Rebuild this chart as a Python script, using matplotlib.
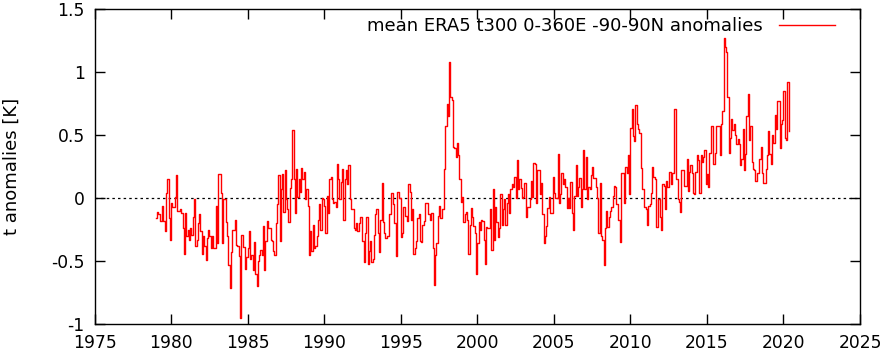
import numpy as np
import matplotlib
matplotlib.use("Agg")
import matplotlib.pyplot as plt

start_year = 1979
seg_1979_1985 = [-0.16, -0.11, -0.13, -0.18, -0.18, -0.06, -0.18, -0.26, 0.04, 0.15,
                 -0.16, -0.33, -0.04, -0.07, -0.07, 0.01, 0.18, -0.10, -0.10, -0.09,
                 -0.12, -0.24, -0.44, -0.12, -0.30, -0.25, -0.33, -0.24, -0.29, -0.15,
                 -0.01, -0.38, -0.33, -0.20, -0.13, -0.26, -0.44, -0.30, -0.38, -0.49,
                 -0.32, -0.25, -0.30, -0.40, -0.30, -0.40, -0.40, -0.06, -0.36, 0.19,
                 0.19, 0.04, -0.36, -0.01, -0.01, -0.19, -0.30, -0.53, -0.71, -0.43,
                 -0.25, -0.25, -0.17, -0.37, -0.38, -0.46, -0.95, -0.29, -0.39, -0.39,
                 -0.56, -0.47, -0.40, -0.26, -0.48, -0.45, -0.57, -0.35, -0.60, -0.70,
                 -0.50, -0.45]
seg_1985_1992 = [-0.41, -0.45, -0.22, -0.57, -0.34, -0.18, -0.24, -0.24, -0.33, -0.34,
                 -0.42, -0.45, -0.20, -0.05, 0.18, -0.34, 0.07, 0.19, -0.11, 0.22,
                 -0.01, -0.09, -0.19, 0.08, 0.15, 0.54, 0.15, -0.12, 0.23, 0.01,
                 0.15, 0.05, 0.24, 0.15, 0.21, -0.01, 0.07, -0.06, -0.45, -0.26,
                 -0.42, -0.21, -0.40, -0.38, -0.30, -0.17, -0.05, -0.25, 0.00, -0.01,
                 -0.06, -0.28, 0.02, -0.12, 0.15, 0.17, -0.01, -0.04, -0.03, -0.07,
                 0.27, 0.15, -0.01, 0.13, 0.23, -0.17, 0.15, 0.22, 0.11, 0.26,
                 -0.01, -0.09, -0.09, -0.24, -0.25, -0.20, -0.26, -0.20, -0.15, -0.15,
                 -0.34, -0.51]
seg_1992_1999 = [-0.28, -0.15, -0.52, -0.42, -0.34, -0.51, -0.48, -0.29, -0.13, -0.09,
                 -0.28, -0.43, -0.17, 0.12, -0.19, -0.28, -0.32, -0.30, -0.30, -0.13,
                 0.04, 0.04, -0.05, -0.20, -0.46, 0.05, 0.05, 0.00, -0.31, -0.28,
                 -0.07, -0.14, -0.14, -0.18, 0.11, 0.05, -0.17, -0.09, -0.44, -0.40,
                 -0.34, -0.16, -0.13, -0.34, -0.35, -0.21, -0.18, -0.04, -0.04, -0.13,
                 -0.13, -0.17, -0.12, -0.40, -0.69, -0.45, -0.36, -0.14, -0.06, -0.16,
                 -0.09, -0.09, 0.23, 0.57, 0.75, 0.65, 1.08, 0.80, 0.78, 0.41,
                 0.40, 0.33, 0.44, 0.34, 0.15, -0.03, 0.01, -0.19, -0.13, -0.11,
                 -0.17, -0.44]
seg_1999_2006 = [-0.21, -0.08, -0.15, -0.22, -0.28, -0.60, -0.36, -0.19, -0.25, -0.17,
                 -0.18, -0.33, -0.52, -0.23, -0.24, -0.24, -0.09, -0.41, 0.07, -0.33,
                 -0.07, -0.19, -0.31, -0.24, 0.03, -0.21, -0.09, -0.01, -0.21, -0.04,
                 0.03, -0.12, 0.07, 0.11, 0.09, 0.17, 0.00, 0.30, 0.07, 0.15,
                 0.08, 0.00, 0.01, 0.12, -0.15, -0.07, -0.07, -0.01, 0.14, 0.01,
                 0.28, 0.27, -0.04, 0.22, 0.22, 0.03, 0.12, -0.13, -0.36, -0.30,
                 -0.22, -0.08, 0.01, -0.12, -0.12, 0.17, 0.04, 0.00, 0.00, 0.35,
                 -0.04, 0.03, 0.20, 0.11, 0.15, 0.09, -0.08, 0.00, -0.08, 0.13,
                 -0.12, -0.25]
seg_2006_2013 = [0.02, 0.26, 0.02, 0.09, 0.16, -0.07, 0.07, 0.38, 0.07, 0.33,
                 -0.01, 0.09, 0.07, 0.18, 0.25, 0.16, 0.16, 0.09, 0.00, -0.28,
                 0.12, -0.30, -0.33, -0.53, -0.24, -0.10, -0.23, -0.15, -0.10, -0.07,
                 0.02, 0.10, 0.09, -0.05, -0.17, -0.17, -0.35, 0.20, 0.20, -0.04,
                 0.25, 0.20, 0.34, 0.03, 0.56, 0.71, 0.49, 0.45, 0.74, 0.59,
                 0.55, 0.52, 0.24, 0.07, 0.07, -0.07, -0.09, -0.21, -0.06, -0.05,
                 0.04, 0.25, 0.17, 0.15, -0.23, -0.23, -0.01, -0.15, -0.25, 0.11,
                 0.10, -0.09, 0.14, 0.09, 0.21, 0.21, 0.11, 0.20, 0.71, 0.71,
                 0.15, -0.01]
seg_2013_2020 = [-0.03, -0.11, 0.22, 0.22, 0.10, 0.10, 0.31, 0.06, 0.21, 0.26,
                 0.20, 0.04, 0.03, 0.21, 0.34, 0.30, 0.04, 0.34, 0.29, 0.33,
                 0.38, 0.11, 0.19, 0.09, 0.36, 0.57, 0.57, 0.27, 0.36, 0.57,
                 0.57, 0.57, 0.34, 0.59, 0.69, 1.27, 1.20, 1.16, 0.80, 0.36,
                 0.48, 0.63, 0.54, 0.59, 0.50, 0.43, 0.47, 0.43, 0.26, 0.31,
                 0.55, 0.22, 0.35, 0.65, 0.83, 0.46, 0.57, 0.29, 0.23, 0.22,
                 0.14, 0.20, 0.20, 0.31, 0.41, 0.20, 0.12, 0.12, 0.23, 0.34,
                 0.53, 0.35, 0.27, 0.50, 0.44, 0.66, 0.55, 0.77, 0.77, 0.40,
                 0.59, 0.62, 0.85, 0.48, 0.46, 0.92, 0.53]

anom = np.array(seg_1979_1985 + seg_1985_1992 + seg_1992_1999 +
                seg_1999_2006 + seg_2006_2013 + seg_2013_2020)
t = start_year + np.arange(len(anom)) / 12.0

legend_label = "mean ERA5 t300 0-360E -90-90N anomalies"
xticks = [1975, 1980, 1985, 1990, 1995, 2000, 2005, 2010, 2015, 2020, 2025]
yticks = [-1, -0.5, 0, 0.5, 1, 1.5]
yticklabels = ["-1", "-0.5", "0", "0.5", "1", "1.5"]

plt.rcParams['font.family'] = ['DejaVu Sans']
fig = plt.figure(figsize=(8.81, 3.54), dpi=100)
ax = fig.add_axes([0.1073, 0.0847, 0.8689, 0.889])

ax.axhline(0, color='black', lw=0.9, ls=(0, (2, 2.5)), zorder=1)
line, = ax.plot(t, anom, drawstyle='steps-post', color='#ff0000', lw=1.0, zorder=2)

ax.set_xlim(1975, 2025)
ax.set_ylim(-1, 1.5)
ax.set_xticks(xticks)
ax.set_xticklabels([str(x) for x in xticks])
ax.set_yticks(yticks)
ax.set_yticklabels(yticklabels)
ax.tick_params(axis='both', direction='in', length=7, width=1, top=True, right=True,
               labelsize=12.3, colors='black')
ax.tick_params(axis='x', pad=7)
ax.tick_params(axis='y', pad=7)
for s in ax.spines.values():
    s.set_linewidth(1.0)
    s.set_color('black')
ax.set_ylabel("t anomalies [K]", fontsize=13, labelpad=22)

leg = ax.legend([line], [legend_label], loc='upper right', frameon=False,
                fontsize=13, markerfirst=False, handlelength=3.1, handletextpad=0.9,
                bbox_to_anchor=(0.967, 0.975), borderaxespad=0.0, borderpad=0.0)

fig.savefig("out.png", dpi=100)
